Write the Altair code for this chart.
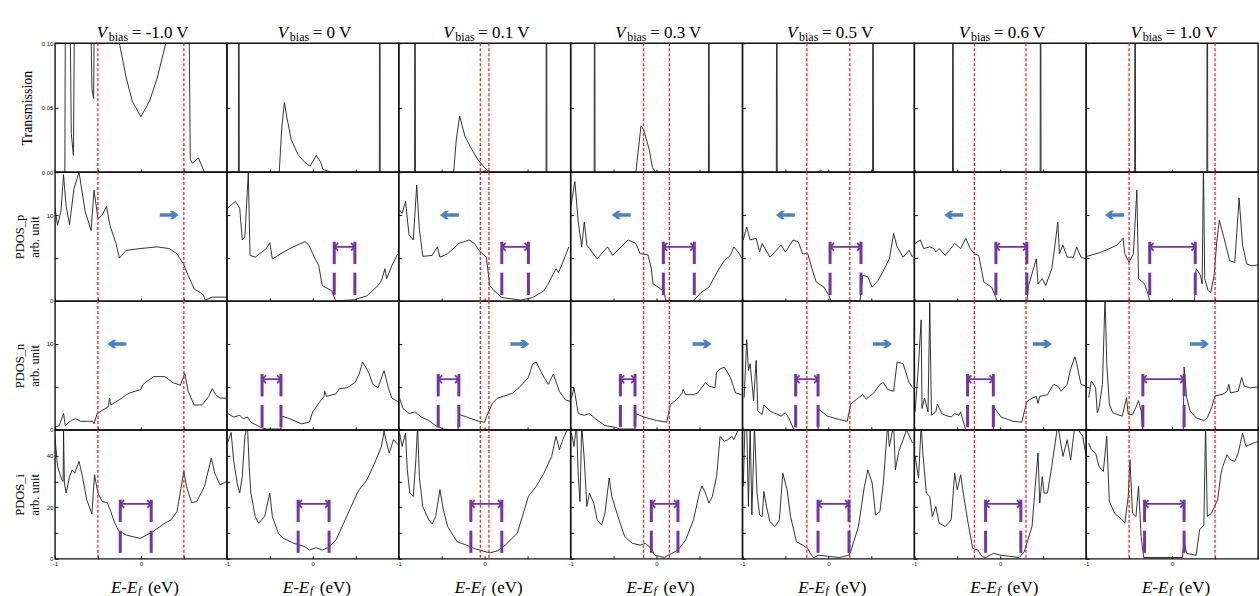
import altair as alt
import pandas as pd

# ---------------- data ----------------
BIAS_LABELS = ["-1.0", "0", "0.1", "0.3", "0.5", "0.6", "1.0"]
BIAS_VALUES = [-1.0, 0.0, 0.1, 0.3, 0.5, 0.6, 1.0]

# Transmission (E - Ef, T)
T0 = [(-1.0, 0), (-0.885, 0), (-0.875, 0.2), (-0.835, 0.2), (-0.81, 0.03), (-0.785, 0.013), (-0.765, 0.2),
      (-0.6, 0.2), (-0.57, 0.065), (-0.55, 0.057), (-0.535, 0.2), (-0.3, 0.2), (-0.25, 0.1), (-0.17, 0.073),
      (-0.1, 0.055), (0.0, 0.043), (0.1, 0.055), (0.19, 0.073), (0.29, 0.1), (0.35, 0.2), (0.55, 0.2),
      (0.575, 0.01), (0.6, 0.007), (0.67, 0.011), (0.72, 0.003), (0.74, 0), (1.0, 0)]
T1 = [(-1.0, 0), (-0.865, 0), (-0.86, 0.3), (-0.855, 0), (-0.39, 0), (-0.36, 0.035), (-0.33, 0.054),
      (-0.3, 0.042), (-0.25, 0.025), (-0.17, 0.0135), (-0.1, 0.008), (-0.03, 0.0045), (0.04, 0.013),
      (0.09, 0.008), (0.12, 0.002), (0.21, 0), (0.775, 0), (0.78, 0.3), (0.785, 0), (1.0, 0)]
T2 = [(-1.0, 0), (-0.815, 0), (-0.81, 0.3), (-0.805, 0), (-0.36, 0), (-0.33, 0.025), (-0.29, 0.0435),
      (-0.23, 0.028), (-0.15, 0.0176), (-0.08, 0.0098), (0.0, 0.0034), (0.05, 0.0005), (0.12, 0),
      (0.715, 0), (0.72, 0.3), (0.725, 0), (1.0, 0)]
T3 = [(-1.0, 0), (-0.725, 0), (-0.72, 0.3), (-0.715, 0), (-0.24, 0), (-0.18, 0.036), (-0.15, 0.033),
      (-0.085, 0.0176), (-0.046, 0.0035), (-0.01, 0), (0.605, 0), (0.61, 0.3), (0.615, 0), (1.0, 0)]
T4 = [(-1.0, 0), (-0.605, 0), (-0.6, 0.3), (-0.595, 0), (-0.12, 0), (-0.09, 0.0015), (-0.06, 0),
      (0.515, 0), (0.52, 0.3), (0.525, 0), (1.0, 0)]
T5 = [(-1.0, 0), (-0.555, 0), (-0.55, 0.3), (-0.545, 0), (0.465, 0), (0.47, 0.3), (0.475, 0), (1.0, 0)]
T6 = [(-1.0, 0), (-0.435, 0), (-0.43, 0.3), (-0.425, 0), (0.405, 0), (0.41, 0.3), (0.415, 0), (1.0, 0)]

# PDOS_p
P0 = [(-1.0, 10.8), (-0.97, 8.8), (-0.93, 10.5), (-0.9, 14.7), (-0.87, 11.0), (-0.83, 8.9), (-0.78, 13.0),
      (-0.72, 15.0), (-0.65, 10.5), (-0.58, 8.2), (-0.545, 12.9), (-0.5, 9.6), (-0.45, 10.0), (-0.4, 11.0),
      (-0.36, 8.8), (-0.29, 6.7), (-0.25, 5.0), (-0.17, 5.9), (-0.01, 6.1), (0.19, 6.3), (0.33, 6.1),
      (0.42, 5.5), (0.5, 4.2), (0.55, 3.0), (0.62, 1.4), (0.72, 0.8), (0.75, 0.1), (0.83, 0.45), (1.0, 0.45)]
P1 = [(-0.99, 10.8), (-0.9, 11.6), (-0.85, 10.8), (-0.82, 7.1), (-0.79, 7.5), (-0.75, 14.9), (-0.73, 5.3),
      (-0.67, 5.1), (-0.54, 6.1), (-0.5, 6.8), (-0.47, 4.9), (-0.27, 6.1), (-0.09, 6.9), (-0.045, 6.5),
      (0.0, 5.5), (0.07, 4.1), (0.11, 1.8), (0.22, 1.2), (0.26, 0.2), (0.27, 0.0), (0.49, 0.15), (0.63, 0.6),
      (0.76, 1.8), (0.8, 2.4), (0.84, 3.75), (0.86, 2.6), (0.92, 4.1), (0.99, 5.5)]
P2 = [(-0.99, 10.6), (-0.96, 10.2), (-0.92, 11.6), (-0.88, 7.7), (-0.83, 7.1), (-0.79, 13.5), (-0.76, 8.4),
      (-0.72, 5.2), (-0.61, 5.3), (-0.55, 6.3), (-0.52, 5.1), (-0.43, 5.5), (-0.3, 6.7), (-0.18, 7.1),
      (-0.12, 6.7), (-0.05, 5.7), (0.02, 5.1), (0.06, 1.8), (0.11, 1.2), (0.2, 0.4), (0.42, 0.1), (0.56, 0.4),
      (0.69, 1.2), (0.74, 2.0), (0.78, 2.8), (0.83, 3.75), (0.86, 3.3), (0.91, 4.5), (0.98, 6.3)]
P3 = [(-1.0, 10.8), (-0.95, 13.9), (-0.91, 9.2), (-0.87, 6.3), (-0.84, 9.2), (-0.81, 6.5), (-0.78, 6.1),
      (-0.69, 4.9), (-0.57, 6.3), (-0.51, 5.3), (-0.33, 7.1), (-0.24, 6.7), (-0.19, 5.5), (-0.1, 5.4),
      (-0.06, 3.75), (-0.04, 2.0), (0.05, 1.4), (0.09, 1.0), (0.11, 0.0), (0.43, 0.0), (0.52, 1.0),
      (0.61, 1.6), (0.72, 3.6), (0.79, 4.7), (0.86, 5.3), (0.9, 6.3), (0.95, 5.7), (1.0, 4.9)]
P4 = [(-0.99, 7.1), (-0.95, 8.6), (-0.91, 7.1), (-0.84, 7.3), (-0.8, 5.7), (-0.77, 6.7), (-0.68, 5.1),
      (-0.55, 6.5), (-0.5, 5.7), (-0.41, 7.1), (-0.35, 6.9), (-0.3, 5.5), (-0.24, 5.5), (-0.19, 3.75),
      (-0.14, 2.2), (-0.05, 1.6), (0.01, 0.6), (0.03, 0.0), (0.37, 0.0), (0.4, 3.0), (0.46, 2.8), (0.51, 1.6),
      (0.58, 2.4), (0.67, 4.1), (0.71, 4.9), (0.76, 7.85), (0.8, 6.3), (0.87, 5.1), (0.94, 5.9), (0.98, 5.1)]
P5 = [(-0.99, 6.7), (-0.93, 7.1), (-0.89, 6.1), (-0.82, 6.3), (-0.77, 6.1), (-0.75, 5.7), (-0.71, 6.1),
      (-0.64, 5.3), (-0.53, 6.7), (-0.46, 6.1), (-0.4, 7.3), (-0.35, 6.1), (-0.3, 5.5), (-0.25, 5.3),
      (-0.19, 2.2), (-0.1, 1.6), (-0.05, 0.4), (-0.04, 0.0), (0.31, 0.0), (0.33, 1.8), (0.42, 4.9),
      (0.44, 2.0), (0.49, 2.6), (0.53, 1.8), (0.6, 3.75), (0.64, 6.7), (0.67, 9.2), (0.69, 5.5), (0.73, 6.5),
      (0.78, 5.1), (0.85, 5.1), (0.89, 6.3), (0.94, 5.1), (1.0, 4.9)]
P6 = [(-0.99, 5.2), (-0.82, 5.7), (-0.64, 6.5), (-0.57, 7.3), (-0.55, 5.5), (-0.5, 4.5), (-0.45, 5.5),
      (-0.41, 12.9), (-0.39, 2.6), (-0.32, 2.0), (-0.28, 0.8), (-0.26, 0.0), (0.26, 0.0), (0.28, 3.75),
      (0.33, 3.0), (0.35, 2.0), (0.365, 16.0), (0.38, 2.6), (0.42, 1.2), (0.45, 1.0), (0.49, 3.0), (0.52, 6.9),
      (0.55, 9.4), (0.6, 7.5), (0.67, 4.7), (0.73, 4.5), (0.78, 12.0), (0.82, 6.5), (0.87, 4.3), (0.93, 4.1),
      (1.0, 4.2)]

# PDOS_n
N0 = [(-1.0, 0.3), (-0.95, 0.5), (-0.9, 1.9), (-0.88, 0.5), (-0.81, 1.1), (-0.76, 1.3), (-0.7, 1.0),
      (-0.56, 1.0), (-0.545, 0.7), (-0.51, 1.9), (-0.38, 2.7), (-0.365, 3.7), (-0.35, 2.9), (-0.22, 3.7),
      (-0.17, 4.1), (-0.13, 4.3), (0.0, 4.7), (0.02, 5.2), (0.05, 5.5), (0.15, 6.2), (0.28, 6.2), (0.37, 5.5),
      (0.46, 5.2), (0.51, 6.6), (0.55, 4.5), (0.62, 2.9), (0.71, 2.9), (0.79, 3.9), (0.83, 4.8), (0.87, 4.1),
      (0.92, 3.7), (1.0, 3.7)]
N1 = [(-0.99, 1.9), (-0.92, 1.5), (-0.85, 1.7), (-0.81, 1.3), (-0.76, 1.5), (-0.72, 0.9), (-0.61, 0.3),
      (-0.54, 0.1), (-0.4, 0.1), (-0.37, 0.1), (-0.36, 1.6), (-0.27, 1.3), (-0.13, 0.7), (-0.04, 0.9),
      (0.0, 2.1), (0.07, 3.1), (0.13, 3.9), (0.14, 4.5), (0.16, 3.9), (0.27, 4.2), (0.31, 4.8), (0.4, 4.9),
      (0.49, 5.5), (0.54, 6.5), (0.58, 7.9), (0.65, 6.7), (0.7, 5.3), (0.76, 4.9), (0.83, 6.9), (0.88, 4.9),
      (0.92, 3.7), (0.99, 3.3)]
N2 = [(-0.99, 3.7), (-0.95, 2.5), (-0.88, 1.9), (-0.81, 2.1), (-0.74, 1.5), (-0.65, 1.1), (-0.57, 0.5),
      (-0.48, 0.1), (-0.39, 0.0), (-0.31, 0.0), (-0.3, 1.8), (-0.21, 1.5), (-0.07, 1.0), (0.0, 0.9),
      (0.02, 1.5), (0.09, 3.1), (0.15, 3.7), (0.22, 3.9), (0.33, 4.3), (0.4, 4.9), (0.51, 6.1), (0.56, 7.7),
      (0.6, 7.9), (0.67, 6.5), (0.74, 5.3), (0.8, 6.5), (0.87, 4.5), (0.94, 3.5), (1.0, 3.3)]
N3 = [(-0.99, 3.7), (-0.96, 4.9), (-0.91, 1.9), (-0.84, 1.7), (-0.78, 1.9), (-0.71, 1.3), (-0.6, 0.5),
      (-0.48, 0.3), (-0.43, 0.1), (-0.25, 0.1), (-0.24, 1.9), (-0.15, 1.5), (0.0, 1.1), (0.12, 0.9),
      (0.16, 2.9), (0.25, 3.7), (0.3, 4.3), (0.31, 4.7), (0.34, 4.1), (0.43, 4.1), (0.48, 4.3), (0.57, 5.5),
      (0.61, 5.1), (0.68, 4.9), (0.7, 6.7), (0.74, 7.1), (0.79, 7.3), (0.86, 6.1), (0.92, 4.3), (0.99, 4.1)]
N4 = [(-0.98, 3.75), (-0.95, 10.5), (-0.93, 6.9), (-0.91, 7.7), (-0.87, 3.4), (-0.84, 8.1), (-0.82, 2.2),
      (-0.77, 1.8), (-0.75, 2.9), (-0.68, 2.2), (-0.64, 2.0), (-0.59, 1.8), (-0.55, 1.6), (-0.5, 2.0),
      (-0.46, 1.4), (-0.41, 0.2), (-0.38, 0.0), (-0.12, 0.0), (-0.11, 2.4), (-0.01, 1.6), (0.13, 1.2),
      (0.22, 1.0), (0.26, 3.0), (0.35, 3.75), (0.4, 4.1), (0.44, 3.6), (0.53, 4.3), (0.6, 5.3), (0.64, 5.5),
      (0.69, 4.7), (0.76, 4.5), (0.8, 7.9), (0.87, 7.7), (0.94, 5.5), (0.98, 4.9)]
N5 = [(-0.99, 2.1), (-0.95, 7.7), (-0.92, 12.8), (-0.91, 2.5), (-0.88, 3.7), (-0.84, 2.1), (-0.82, 14.8),
      (-0.8, 1.7), (-0.75, 2.1), (-0.73, 3.0), (-0.68, 1.9), (-0.64, 1.7), (-0.57, 1.5), (-0.53, 1.9),
      (-0.48, 1.7), (-0.46, 2.1), (-0.44, 1.3), (-0.4, 0.0), (-0.08, 0.0), (-0.07, 2.6), (0.01, 1.5),
      (0.15, 1.0), (0.25, 0.9), (0.31, 3.3), (0.37, 3.7), (0.42, 3.9), (0.44, 3.1), (0.46, 3.9), (0.55, 4.1),
      (0.62, 5.3), (0.67, 5.1), (0.71, 4.5), (0.78, 5.3), (0.82, 7.1), (0.87, 8.5), (0.89, 7.7), (0.94, 5.3),
      (1.0, 5.1)]
N6 = [(-0.97, 3.75), (-0.94, 5.7), (-0.89, 4.9), (-0.87, 2.0), (-0.85, 2.6), (-0.81, 5.3), (-0.78, 15.5),
      (-0.76, 7.7), (-0.73, 3.0), (-0.69, 2.0), (-0.64, 1.8), (-0.58, 1.6), (-0.53, 3.75), (-0.51, 1.8),
      (-0.46, 1.8), (-0.43, 2.4), (-0.39, 3.4), (-0.36, 2.2), (-0.34, 0.0), (0.13, 0.0), (0.14, 7.3),
      (0.17, 3.75), (0.21, 2.2), (0.28, 1.4), (0.37, 1.1), (0.41, 1.4), (0.46, 2.6), (0.5, 3.95), (0.59, 4.15),
      (0.64, 4.5), (0.66, 5.3), (0.68, 4.3), (0.77, 4.5), (0.81, 6.1), (0.84, 5.1), (0.91, 4.9), (1.0, 5.0)]

# PDOS_i
I0 = [(-1.0, 47.5), (-0.97, 35.8), (-0.92, 30.6), (-0.905, 30.0), (-0.9, 49.5), (-0.89, 29.4), (-0.87, 25.5),
      (-0.83, 31.9), (-0.8, 34.5), (-0.77, 33.2), (-0.72, 37.8), (-0.68, 31.9), (-0.63, 22.9), (-0.57, 17.4),
      (-0.54, 32.6), (-0.5, 25.5), (-0.45, 22.2), (-0.39, 21.8), (-0.35, 18.3), (-0.31, 14.4), (-0.26, 10.9),
      (-0.17, 9.2), (-0.01, 7.9), (0.12, 10.1), (0.28, 13.8), (0.35, 15.1), (0.42, 18.3), (0.5, 33.9),
      (0.53, 28.1), (0.59, 21.8), (0.65, 22.2), (0.74, 28.1), (0.82, 39.1), (0.86, 33.2), (0.92, 28.7),
      (1.0, 30.0)]
I1 = [(-0.99, 45.0), (-0.95, 49.0), (-0.92, 38.0), (-0.88, 29.4), (-0.85, 25.5), (-0.82, 32.0), (-0.79, 47.5),
      (-0.76, 52.0), (-0.74, 35.8), (-0.72, 25.5), (-0.67, 16.4), (-0.63, 13.8), (-0.56, 16.4), (-0.5, 25.5),
      (-0.47, 16.4), (-0.4, 9.9), (-0.34, 7.9), (-0.22, 6.0), (-0.09, 4.7), (-0.04, 3.4), (0.04, 4.3),
      (0.11, 3.4), (0.18, 4.4), (0.27, 7.3), (0.36, 13.8), (0.49, 23.5), (0.54, 26.8), (0.63, 30.6),
      (0.72, 37.1), (0.8, 43.6), (0.83, 49.5), (0.85, 46.2), (0.89, 41.0), (0.94, 46.2), (0.99, 44.3)]
I2 = [(-0.99, 48.8), (-0.96, 43.6), (-0.92, 48.8), (-0.9, 34.5), (-0.87, 25.5), (-0.83, 24.2), (-0.8, 38.4),
      (-0.78, 52.0), (-0.76, 31.9), (-0.72, 20.3), (-0.65, 15.1), (-0.61, 13.5), (-0.57, 16.4), (-0.52, 26.8),
      (-0.48, 19.0), (-0.43, 12.5), (-0.32, 6.6), (-0.21, 5.3), (-0.12, 4.0), (-0.03, 3.1), (0.06, 2.3),
      (0.15, 3.1), (0.24, 5.3), (0.38, 9.9), (0.51, 24.2), (0.6, 28.1), (0.69, 33.2), (0.78, 39.7),
      (0.83, 47.5), (0.87, 42.3), (0.91, 46.2), (0.96, 50.0), (1.0, 50.0)]
I3 = [(-0.99, 48.8), (-0.96, 43.6), (-0.93, 52.0), (-0.91, 31.9), (-0.89, 22.2), (-0.87, 52.0), (-0.84, 38.4),
      (-0.81, 20.3), (-0.78, 25.5), (-0.73, 21.6), (-0.69, 15.1), (-0.64, 13.1), (-0.6, 17.6), (-0.55, 31.3),
      (-0.52, 24.2), (-0.46, 17.6), (-0.37, 8.6), (-0.28, 6.0), (-0.19, 5.3), (-0.13, 6.0), (-0.06, 4.0),
      (-0.02, 1.4), (0.09, 0.5), (0.14, 1.4), (0.25, 3.4), (0.34, 7.3), (0.43, 15.1), (0.5, 25.5), (0.53, 28.3),
      (0.57, 25.5), (0.61, 21.6), (0.65, 24.2), (0.7, 32.0), (0.74, 47.5), (0.79, 45.6), (0.83, 46.2),
      (0.88, 47.5), (0.9, 46.2), (0.95, 50.0), (1.0, 50.0)]
I4 = [(-0.99, 28.1), (-0.97, 52.0), (-0.95, 52.0), (-0.93, 20.3), (-0.91, 52.0), (-0.89, 17.0), (-0.86, 52.0),
      (-0.83, 25.5), (-0.8, 17.0), (-0.77, 16.4), (-0.75, 26.1), (-0.72, 20.3), (-0.68, 14.4), (-0.62, 12.5),
      (-0.57, 15.1), (-0.53, 33.2), (-0.48, 26.8), (-0.44, 16.4), (-0.37, 6.6), (-0.3, 5.3), (-0.24, 4.0),
      (-0.21, 2.1), (-0.17, 0.4), (-0.12, 1.4), (-0.01, 1.0), (0.13, 0.5), (0.24, 1.4), (0.26, 2.7),
      (0.35, 12.5), (0.42, 28.1), (0.46, 34.5), (0.51, 29.4), (0.55, 17.0), (0.6, 18.3), (0.64, 29.4),
      (0.69, 52.0), (0.71, 43.6), (0.76, 52.0), (0.78, 34.5), (0.82, 41.7), (0.87, 46.2), (0.91, 50.0),
      (0.98, 44.9)]
I5 = [(-0.99, 39.7), (-0.95, 31.3), (-0.92, 52.0), (-0.9, 41.0), (-0.86, 25.5), (-0.82, 24.2), (-0.79, 16.4),
      (-0.75, 20.3), (-0.71, 13.8), (-0.64, 12.5), (-0.57, 15.1), (-0.53, 33.2), (-0.5, 26.8), (-0.46, 32.6),
      (-0.43, 25.5), (-0.38, 15.1), (-0.32, 4.0), (-0.26, 3.4), (-0.21, 0.8), (-0.17, 0.5), (-0.08, 2.1),
      (0.01, 1.4), (0.1, 1.0), (0.22, 0.5), (0.28, 2.7), (0.37, 12.5), (0.42, 33.2), (0.44, 41.0),
      (0.46, 21.6), (0.49, 31.9), (0.51, 25.5), (0.55, 25.5), (0.6, 35.8), (0.67, 52.0), (0.73, 39.7),
      (0.78, 46.2), (0.82, 38.4), (0.87, 52.0), (0.96, 47.5), (1.0, 39.7)]
I6 = [(-0.97, 44.9), (-0.94, 42.3), (-0.89, 41.0), (-0.85, 35.8), (-0.8, 33.9), (-0.76, 47.5), (-0.73, 22.2),
      (-0.67, 17.7), (-0.58, 15.1), (-0.55, 13.8), (-0.51, 24.2), (-0.49, 38.4), (-0.46, 17.7), (-0.42, 16.4),
      (-0.39, 28.1), (-0.36, 8.6), (-0.33, 0.5), (0.12, 0.5), (0.14, 6.6), (0.17, 2.1), (0.28, 1.4),
      (0.32, 11.2), (0.37, 13.1), (0.39, 52.0), (0.41, 16.4), (0.46, 17.7), (0.53, 22.9), (0.57, 33.2),
      (0.59, 35.8), (0.64, 40.4), (0.68, 38.4), (0.73, 37.8), (0.77, 41.0), (0.82, 48.8), (0.86, 43.6),
      (0.95, 44.9), (1.0, 45.5)]

TRANS = [T0, T1, T2, T3, T4, T5, T6]
PDOS_P = [P0, P1, P2, P3, P4, P5, P6]
PDOS_N = [N0, N1, N2, N3, N4, N5, N6]
PDOS_I = [I0, I1, I2, I3, I4, I5, I6]

# purple gap brackets (left edge, right edge) in eV
BRACKET_P = [None, (0.25, 0.49), (0.2, 0.51), (0.08, 0.44), (0.02, 0.38), (-0.05, 0.31), (-0.26, 0.27)]
BRACKET_N = [None, (-0.59, -0.37), (-0.54, -0.3), (-0.42, -0.25), (-0.38, -0.12), (-0.38, -0.08), (-0.34, 0.14)]
BRACKET_I = [(-0.24, 0.12), (-0.17, 0.19), (-0.16, 0.2), (-0.06, 0.25), (-0.12, 0.24), (-0.17, 0.24), (-0.32, 0.14)]

# blue shift arrows (position in eV, direction)
ARROW_P = [(0.33, "right"), None, (-0.41, "left"), (-0.41, "left"), (-0.5, "left"), (-0.54, "left"), (-0.67, "left")]
ARROW_N = [(-0.28, "left"), None, (0.41, "right"), (0.53, "right"), (0.63, "right"), (0.49, "right"), (0.32, "right")]

# ---------------- styling ----------------
SERIF = "Liberation Serif"
W, H = 172, 129
PURPLE = "#7234a6"
BLUE = "#4a80c4"
RED = "#ff2222"
LINE = "#1e1e1e"

ROWS = [
    dict(curves=TRANS, top=0.1, ticks=[0, 0.05, 0.1], lexpr="datum.label", fmt=".2f",
         title="Transmission", tpad=7, tsize=14),
    dict(curves=PDOS_P, top=15, ticks=[0, 5, 10, 15],
         lexpr="datum.value == 0 || datum.value == 10 ? datum.label : ''",
         title=["PDOS_p", "arb. unit"], tpad=5, tsize=12.5,
         brackets=BRACKET_P, bgeom=(0.7, 3.3, 4.3, 6.9, 6.3), arrows=ARROW_P, arrow_y=10),
    dict(curves=PDOS_N, top=15, ticks=[0, 5, 10, 15],
         lexpr="datum.value == 0 || datum.value == 10 ? datum.label : ''",
         title=["PDOS_n", "arb. unit"], tpad=5, tsize=12.5,
         brackets=BRACKET_N, bgeom=(0.3, 2.9, 3.9, 6.5, 5.9), arrows=ARROW_N, arrow_y=10),
    dict(curves=PDOS_I, top=50, ticks=[0, 10, 20, 30, 40, 50],
         lexpr="datum.value == 0 || datum.value == 20 || datum.value == 40 ? datum.label : ''",
         title=["PDOS_i", "arb. unit"], tpad=5, tsize=12.5,
         brackets=BRACKET_I, bgeom=(2.3, 10.9, 14.3, 22.9, 21.3)),
]

CHAR_W = {"=": 9.6, " ": 4.25, "-": 5.7, ".": 4.25, "V": 12.3}

RIGHT_ARROW = "M-1,-0.19L0.3,-0.19L0.05,-0.45L0.4,-0.45L1,0L0.4,0.45L0.05,0.45L0.3,0.19L-1,0.19Z"
LEFT_ARROW = "M1,-0.19L-0.3,-0.19L-0.05,-0.45L-0.4,-0.45L-1,0L-0.4,0.45L-0.05,0.45L-0.3,0.19L1,0.19Z"


def panel(r, c):
    row = ROWS[r]
    first = c == 0
    bottom = r == len(ROWS) - 1
    xs = alt.Scale(domain=[-1, 1], nice=False, zero=False)
    ys = alt.Scale(domain=[0, row["top"]], nice=False, zero=False)
    xa = alt.Axis(title=None, values=[-1, -0.5, 0, 0.5, 1], tickSize=3, offset=-3, domain=False, grid=False,
                  labels=bottom, labelExpr="datum.value == -1 ? '-1' : datum.value == 0 ? '0' : ''",
                  labelFontSize=6, labelFlush=False, labelPadding=2, labelOverlap=False)
    yargs = dict(values=row["ticks"], tickSize=3, offset=-3, domain=False, grid=False, labels=first,
                 labelExpr=row["lexpr"], labelFontSize=6, labelPadding=2, labelOverlap=False,
                 titlePadding=row["tpad"], titleFont=SERIF, titleFontSize=row["tsize"],
                 titleFontWeight="normal", titleColor="black", titleLineHeight=15)
    if "fmt" in row:
        yargs["format"] = row["fmt"]
    if first:
        yargs["title"] = row["title"]
    else:
        yargs["title"] = None
    ya = alt.Axis(**yargs)
    X = lambda f="E": alt.X(f"{f}:Q", scale=xs, axis=xa)
    Y = lambda f="v": alt.Y(f"{f}:Q", scale=ys, axis=ya)

    df = pd.DataFrame(row["curves"][c], columns=["E", "v"])
    layers = [alt.Chart(df).mark_line(color=LINE, strokeWidth=0.9, clip=True).encode(x=X(), y=Y())]

    v = BIAS_VALUES[c]
    if v != 0:
        h = abs(v) / 2
        layers.append(alt.Chart(pd.DataFrame({"E": [-h, h]})).mark_rule(
            color=RED, strokeDash=[3, 2], strokeWidth=1.3).encode(x=X()))

    br = row.get("brackets")
    if br and br[c]:
        x1, x2 = br[c]
        b0, b1, b2, b3, ay = row["bgeom"]
        seg = pd.DataFrame({"E": [x1, x1, x2, x2], "v": [b0, b2, b0, b2], "v2": [b1, b3, b1, b3]})
        layers.append(alt.Chart(seg).mark_rule(color=PURPLE, strokeWidth=3).encode(
            x=X(), y=Y(), y2=alt.Y2("v2:Q")))
        shaft = pd.DataFrame({"E": [x1], "E2": [x2], "v": [ay]})
        layers.append(alt.Chart(shaft).mark_rule(color=PURPLE, strokeWidth=1.8).encode(
            x=X(), x2=alt.X2("E2:Q"), y=Y()))
        layers.append(alt.Chart(pd.DataFrame({"E": [x1], "v": [ay]})).mark_point(
            shape="M1,-1L0,0L1,1", size=60, filled=False, color=PURPLE, strokeWidth=1.8, opacity=1).encode(x=X(), y=Y()))
        layers.append(alt.Chart(pd.DataFrame({"E": [x2], "v": [ay]})).mark_point(
            shape="M-1,-1L0,0L-1,1", size=60, filled=False, color=PURPLE, strokeWidth=1.8, opacity=1).encode(x=X(), y=Y()))

    ar = row.get("arrows")
    if ar and ar[c]:
        xa_pos, direction = ar[c]
        layers.append(alt.Chart(pd.DataFrame({"E": [xa_pos], "v": [row["arrow_y"]]})).mark_point(
            shape=RIGHT_ARROW if direction == "right" else LEFT_ARROW, size=360, filled=True,
            color=BLUE, opacity=1, strokeWidth=0).encode(x=X(), y=Y()))

    zero = pd.DataFrame({"E": [0.0]})
    if r == 0:
        main = f"= {BIAS_LABELS[c]} V"
        total = 35 + sum(CHAR_W.get(ch, 8.5) for ch in main)
        s = -total / 2 + 2
        layers.append(alt.Chart(zero).mark_text(text="V", font=SERIF, fontSize=17, fontStyle="italic",
                                                align="left", dx=s, color="black").encode(x=X(), y=alt.value(-10)))
        layers.append(alt.Chart(zero).mark_text(text="bias", font=SERIF, fontSize=12, align="left",
                                                dx=s + 12, color="black").encode(x=X(), y=alt.value(-6)))
        layers.append(alt.Chart(zero).mark_text(text=main, font=SERIF, fontSize=17, align="left",
                                                dx=s + 35, color="black").encode(x=X(), y=alt.value(-10)))
    if bottom:
        s = -34 + 4
        layers.append(alt.Chart(zero).mark_text(text="E-E", font=SERIF, fontSize=17, fontStyle="italic",
                                                align="left", dx=s, color="black").encode(x=X(), y=alt.value(H + 29)))
        layers.append(alt.Chart(zero).mark_text(text="f", font=SERIF, fontSize=12, fontStyle="italic",
                                                align="left", dx=s + 27, color="black").encode(x=X(), y=alt.value(H + 32)))
        layers.append(alt.Chart(zero).mark_text(text="(eV)", font=SERIF, fontSize=17, align="left",
                                                dx=s + 37, color="black").encode(x=X(), y=alt.value(H + 29)))

    return alt.layer(*layers).properties(width=W, height=H)


panels = [panel(r, c) for r in range(4) for c in range(7)]

chart = alt.concat(*panels, columns=7, spacing=0, bounds="flush").resolve_scale(
    x="independent", y="independent"
).properties(
    padding={"left": 12, "top": 23, "right": 0, "bottom": 1},
    background="white",
).configure_view(
    stroke="#111111", strokeWidth=1.4
).configure_axis(
    tickColor="#111111", labelColor="#111111", labelFont="Liberation Sans", tickWidth=1
)

chart.save("out.html", embed_options={"renderer": "svg", "actions": False})
